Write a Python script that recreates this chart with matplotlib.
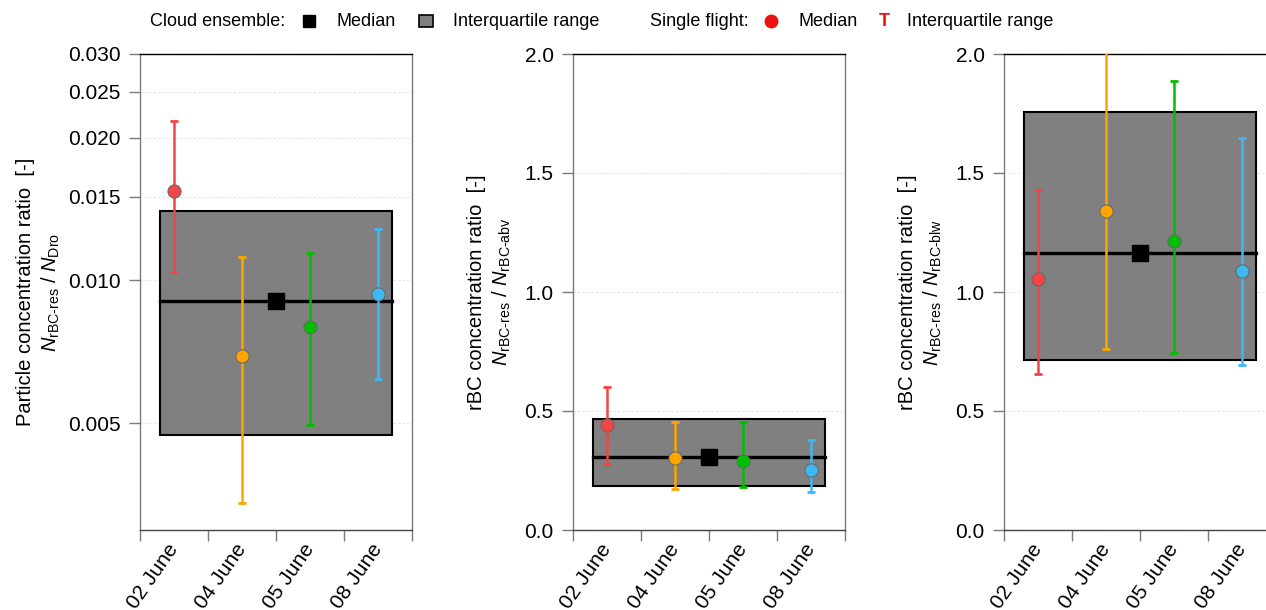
import numpy as np
import matplotlib
matplotlib.use("Agg")
import matplotlib.pyplot as plt
from matplotlib.lines import Line2D
from matplotlib.patches import Rectangle
from matplotlib.ticker import FixedLocator, FormatStrFormatter, NullLocator

plt.rcParams['font.family'] = ['Liberation Sans', 'DejaVu Sans']
plt.rcParams['mathtext.fontset'] = 'custom'
plt.rcParams['mathtext.rm'] = 'Liberation Sans'
plt.rcParams['mathtext.it'] = 'Liberation Sans:italic'
plt.rcParams['mathtext.bf'] = 'Liberation Sans:bold'

# flight days
days = ["02 June", "04 June", "05 June", "08 June"]
day_colors = ["#F24545", "#FFA500", "#00BF00", "#3DB8F5"]

# panel 1 : rBC-res / Dro (log axis)
p1_med = [0.01544, 0.00694, 0.00799, 0.00937]
p1_q25 = [0.01043, 0.00340, 0.00497, 0.00620]
p1_q75 = [0.02168, 0.01121, 0.01143, 0.01284]
p1_ens = [0.00473, 0.00906, 0.01400]   # q25, median, q75

# panel 2 : rBC-res / rBC-abv
p2_med = [0.443, 0.301, 0.291, 0.251]
p2_q25 = [0.277, 0.172, 0.181, 0.161]
p2_q75 = [0.600, 0.452, 0.452, 0.378]
p2_ens = [0.186, 0.308, 0.468]

# panel 3 : rBC-res / rBC-blw
p3_med = [1.054, 1.340, 1.214, 1.090]
p3_q25 = [0.657, 0.759, 0.744, 0.692]
p3_q75 = [1.427, 2.150, 1.887, 1.648]
p3_ens = [0.716, 1.165, 1.755]

ylabels = [
    "Particle concentration ratio  [-]\n" + r"$N_{\text{rBC-res}}$ / $N_{\text{Dro}}$",
    "rBC concentration ratio  [-]\n" + r"$N_{\text{rBC-res}}$ / $N_{\text{rBC-abv}}$",
    "rBC concentration ratio  [-]\n" + r"$N_{\text{rBC-res}}$ / $N_{\text{rBC-blw}}$",
]

W, H = 1266, 610
fig = plt.figure(figsize=(W / 100, H / 100), dpi=100)

tick_col = "#7a7a7a"
lefts = [140, 573, 1004]
pads = [4, 8, 8]
panels = [(p1_med, p1_q25, p1_q75, p1_ens),
          (p2_med, p2_q25, p2_q75, p2_ens),
          (p3_med, p3_q25, p3_q75, p3_ens)]

for i, (med, q25, q75, ens) in enumerate(panels):
    ax = fig.add_axes([lefts[i] / W, 80 / H, 272 / W, 476 / H])
    xc = np.arange(len(days)) + 0.5

    if i == 0:
        ax.set_yscale("log")
        ax.set_ylim(0.00298, 0.030)
        ax.yaxis.set_major_locator(FixedLocator([0.005, 0.010, 0.015, 0.020, 0.025, 0.030]))
        ax.yaxis.set_major_formatter(FormatStrFormatter("%.3f"))
        ax.yaxis.set_minor_locator(NullLocator())
    else:
        ax.set_ylim(0, 2.0)
        ax.set_yticks([0.0, 0.5, 1.0, 1.5, 2.0])
        ax.yaxis.set_major_formatter(FormatStrFormatter("%.1f"))
    ax.set_xlim(0, len(days))

    ax.grid(axis="y", color="#e4e4e4", linestyle=(0, (2, 2)), linewidth=0.8)
    ax.set_axisbelow(True)

    # cloud ensemble interquartile box and median
    ax.add_patch(Rectangle((0.3, ens[0]), 3.4, ens[2] - ens[0],
                           facecolor="#808080", edgecolor="black", linewidth=1.5, zorder=2))
    ax.plot([0.3, 3.7], [ens[1], ens[1]], color="black", linewidth=2.4, zorder=3)
    ax.plot([2.0], [ens[1]], marker="s", markersize=11, color="black", zorder=4)

    # single flights
    for k in range(len(days)):
        yerr = [[med[k] - q25[k]], [q75[k] - med[k]]]
        ax.errorbar(xc[k], med[k], yerr=yerr, fmt="none", ecolor=day_colors[k],
                    elinewidth=1.8, capsize=2.6, capthick=2, zorder=5)
        ax.plot(xc[k], med[k], marker="o", markersize=9.5, color=day_colors[k],
                markeredgecolor="#666666", markeredgewidth=0.7, zorder=6)

    # ticks at the day boundaries, labels at day centres
    ax.set_xticks(np.arange(len(days) + 1))
    ax.set_xticklabels([])
    ax.set_xticks(xc, minor=True)
    ax.set_xticklabels(days, minor=True, rotation=55, ha="right", va="center",
                       rotation_mode="anchor", fontsize=15)
    ax.tick_params(axis="x", which="minor", length=0, pad=11)
    ax.tick_params(axis="both", which="major", direction="out", length=8,
                   width=1, color=tick_col, labelsize=15)
    ax.tick_params(axis="y", pad=6)

    ax.spines["left"].set_color(tick_col)
    ax.spines["right"].set_color(tick_col)
    ax.spines["bottom"].set_color("#444444")
    ax.spines["top"].set_color("black")
    for s in ax.spines.values():
        s.set_linewidth(1)

    ax.set_ylabel(ylabels[i], fontsize=14.5, linespacing=1.3, labelpad=pads[i])

# top legend drawn in figure coordinates
yl = 1 - 21 / H
fs = 13
fig.text(150 / W, yl, "Cloud ensemble:", fontsize=fs, va="center", ha="left")
fig.add_artist(Line2D([309 / W], [yl], marker="s", markersize=9, color="black",
                      linestyle="none", transform=fig.transFigure))
fig.text(336 / W, yl, "Median", fontsize=fs, va="center", ha="left")
fig.add_artist(Rectangle(((426 - 7) / W, yl - 6 / H), 14 / W, 12 / H,
                         facecolor="#808080", edgecolor="black", linewidth=1.2,
                         transform=fig.transFigure))
fig.text(453 / W, yl, "Interquartile range", fontsize=fs, va="center", ha="left")

fig.text(650 / W, yl, "Single flight:", fontsize=fs, va="center", ha="left")
fig.add_artist(Line2D([771 / W], [yl], marker="o", markersize=9, color="#EE1111",
                      linestyle="none", transform=fig.transFigure))
fig.text(798 / W, yl, "Median", fontsize=fs, va="center", ha="left")
fig.text(884 / W, yl, "T", fontsize=fs, va="center", ha="center",
         color="#EE1111", fontweight="bold")
fig.text(907 / W, yl, "Interquartile range", fontsize=fs, va="center", ha="left")

fig.savefig("out.png", dpi=100)
